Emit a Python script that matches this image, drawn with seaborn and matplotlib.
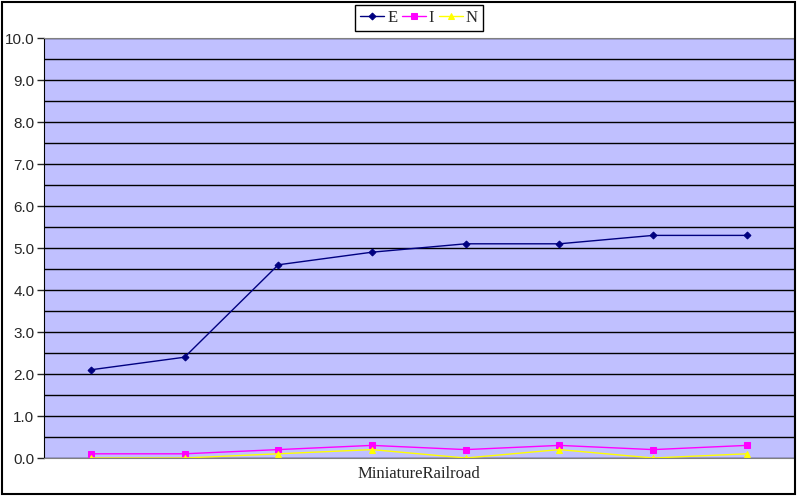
import seaborn as sns
import numpy as np
import pandas as pd
import matplotlib.pyplot as plt
from matplotlib.patches import Rectangle

# data
points = list(range(8))
e_vals = [2.1, 2.4, 4.6, 4.9, 5.1, 5.1, 5.3, 5.3]
i_vals = [0.1, 0.1, 0.2, 0.3, 0.2, 0.3, 0.2, 0.3]
n_vals = [0.0, 0.0, 0.1, 0.2, 0.0, 0.2, 0.0, 0.1]
series = ['E', 'I', 'N']
y_ticks = [0, 1, 2, 3, 4, 5, 6, 7, 8, 9, 10]
x_label = 'MiniatureRailroad'

df = pd.DataFrame({
    'x': points * 3,
    'val': e_vals + i_vals + n_vals,
    'series': ['E'] * 8 + ['I'] * 8 + ['N'] * 8,
})

sns.set_style('white')

fig = plt.figure(figsize=(8, 5), dpi=100)
# outer frame like the reference (slightly inset at right/bottom)
fig.patches.append(Rectangle((2 / 800, 6 / 500), 793 / 800, 492 / 500, transform=fig.transFigure,
                             fill=False, edgecolor='black', linewidth=1.5))
ax = fig.add_axes([0.055, 0.084, 0.937, 0.84])
ax.set_facecolor('#C0C0FF')

palette = {'E': '#000080', 'I': '#FF00FF', 'N': '#FFFF00'}
markers = {'E': 'D', 'I': 's', 'N': '^'}
sizes = {'E': 3.5, 'I': 5, 'N': 5}
for s in series:
    sns.lineplot(data=df[df['series'] == s], x='x', y='val', color=palette[s],
                 marker=markers[s], markersize=sizes[s], markeredgecolor=palette[s],
                 linewidth=1, label=s, ax=ax)

ax.set_xlim(-0.5, 7.5)
ax.set_ylim(0, 10)
ax.set_yticks(np.arange(0, 10.01, 0.5), minor=True)
ax.set_yticks(y_ticks)
ax.set_yticklabels([f'{v:.1f}' for v in y_ticks], fontsize=11, family='Liberation Sans')
ax.grid(True, which='both', axis='y', color='black', linewidth=1)
ax.tick_params(axis='y', which='major', direction='out', length=5, width=1, left=True, pad=2)
ax.tick_params(axis='y', which='minor', length=0)
ax.set_xticks([])
ax.set_xlabel(x_label, family='Liberation Serif', fontsize=12, labelpad=6)
ax.set_ylabel('')
for side in ['top', 'right', 'bottom']:
    ax.spines[side].set_color('gray')
ax.spines['left'].set_color('black')

ax.legend(loc='upper center', bbox_to_anchor=(0.524, 0.99), bbox_transform=fig.transFigure,
          ncol=3, frameon=True, fancybox=False, edgecolor='black', framealpha=1,
          prop={'family': 'Liberation Serif', 'size': 12}, handlelength=1.4,
          columnspacing=0.3, handletextpad=0.2, borderpad=0.3, borderaxespad=0)

fig.savefig('out.png', dpi=100)
